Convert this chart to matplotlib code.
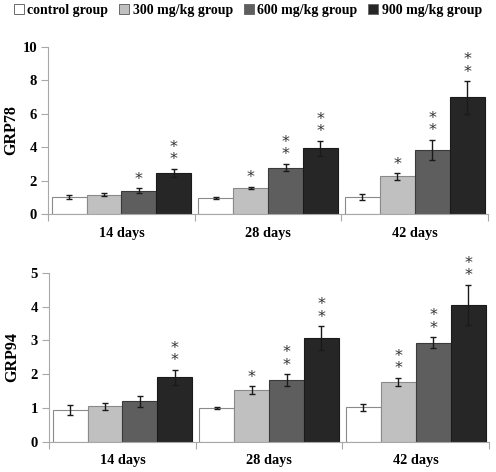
import matplotlib
matplotlib.use("Agg")
import matplotlib.pyplot as plt
import numpy as np
from matplotlib.patches import Patch

plt.rcParams['font.family'] = ['Liberation Serif', 'DejaVu Serif']
plt.rcParams['font.weight'] = 'bold'

days = ['14 days', '28 days', '42 days']
groups = ['control group', '300 mg/kg group', '600 mg/kg group', '900 mg/kg group']
colors = ['#ffffff', '#c0c0c0', '#5e5e5e', '#262626']
edges = ['#8a8a8a', '#8a8a8a', '#3a3a3a', '#1a1a1a']

# GRP78, rows = group, cols = day
grp78 = [[1.02, 0.98, 1.00],
         [1.16, 1.55, 2.26],
         [1.38, 2.78, 3.84],
         [2.47, 3.95, 6.98]]
grp78_err = [[0.14, 0.06, 0.17],
             [0.09, 0.08, 0.20],
             [0.15, 0.23, 0.60],
             [0.25, 0.45, 0.98]]
grp78_sig = [['', '', ''],
             ['', '*', '*'],
             ['*', '**', '**'],
             ['**', '**', '**']]

grp94 = [[0.93, 1.00, 1.02],
         [1.05, 1.53, 1.77],
         [1.20, 1.83, 2.93],
         [1.91, 3.06, 4.05]]
grp94_err = [[0.15, 0.03, 0.11],
             [0.10, 0.11, 0.12],
             [0.16, 0.17, 0.17],
             [0.22, 0.36, 0.60]]
grp94_sig = [['', '', ''],
             ['', '*', '**'],
             ['', '**', '**'],
             ['**', '**', '**']]

fig = plt.figure(figsize=(4.96, 4.72), dpi=100)
ax1 = fig.add_axes([0.097, 0.5466, 0.887, 0.3538])
ax2 = fig.add_axes([0.099, 0.0642, 0.887, 0.358])

w = 0.238
x = np.arange(len(days))
spine_c = '#a8a8a8'


def draw(ax, vals, errs, sigs, ymax, ylabel):
    for i in range(len(groups)):
        xs = x + (i - 1.5) * w
        ax.bar(xs, vals[i], w, color=colors[i], edgecolor=edges[i], linewidth=0.8,
               yerr=errs[i], capsize=2.5,
               error_kw=dict(ecolor='#1a1a1a', elinewidth=1.0, capthick=1.0))
        for j in range(len(days)):
            s = sigs[i][j]
            if s:
                ax.annotate('\n'.join(s), xy=(xs[j], vals[i][j] + errs[i][j]),
                            xytext=(0, 1), textcoords='offset points',
                            ha='center', va='bottom', fontsize=11.5,
                            fontweight='normal', color='#333333',
                            linespacing=0.78, family='DejaVu Sans')
    ax.set_xlim(-0.5, 2.5)
    ax.set_ylim(0, ymax)
    ax.set_xticks(x)
    ax.set_xticklabels(days, fontsize=10.3, fontweight='bold')
    ax.set_xticks([-0.5, 0.5, 1.5, 2.5], minor=True)
    ax.tick_params(axis='x', which='major', length=0, pad=9)
    ax.tick_params(axis='x', which='minor', length=5, color=spine_c, width=0.8)
    ax.tick_params(axis='y', length=5, color=spine_c, width=0.8, labelsize=10.5, pad=3)
    ax.set_ylabel(ylabel, fontsize=11.5, fontweight='bold', va='center')
    ax.yaxis.set_label_coords(-0.084, 0.5)
    for sp in ['top', 'right']:
        ax.spines[sp].set_visible(False)
    for sp in ['left', 'bottom']:
        ax.spines[sp].set_color(spine_c)
        ax.spines[sp].set_linewidth(0.8)


draw(ax1, grp78, grp78_err, grp78_sig, 10, 'GRP78')
ax1.set_yticks([0, 2, 4, 6, 8, 10])
draw(ax2, grp94, grp94_err, grp94_sig, 5, 'GRP94')
ax2.set_yticks([0, 1, 2, 3, 4, 5])
for ax in (ax1, ax2):
    for lbl in ax.get_yticklabels():
        lbl.set_fontweight('bold')

handles = [Patch(facecolor=colors[i], edgecolor='#6a6a6a', linewidth=0.7) for i in range(4)]
fig.legend(handles, groups, loc='center', bbox_to_anchor=(0.5, 0.978), ncol=4,
           frameon=False, handlelength=0.7, handleheight=0.7, handletextpad=0.25,
           columnspacing=0.8, borderpad=0, borderaxespad=0,
           prop={'size': 10, 'weight': 'bold'})

fig.savefig('out.png', dpi=100)
